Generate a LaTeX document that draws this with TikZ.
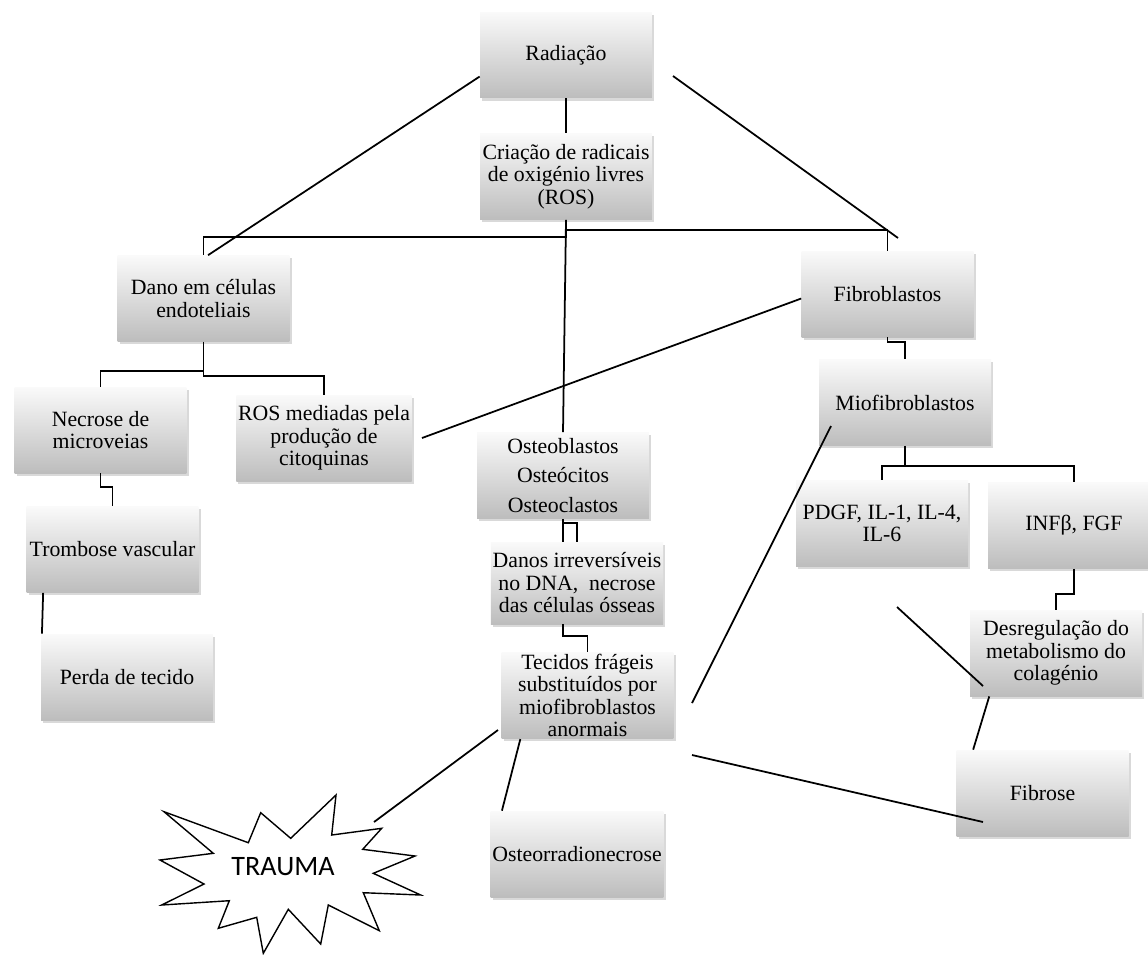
\documentclass[tikz,border=0pt]{standalone}
\usepackage{fontspec}
\setmainfont{Liberation Serif}
\newfontfamily\traumafont{Carlito}
\usetikzlibrary{shadows}

\begin{document}
\begin{tikzpicture}[x=0.02cm,y=-0.02cm,
  caixa/.style={
    top color=black!2, bottom color=black!26,
    drop shadow={opacity=0.3,shadow xshift=1.2pt,shadow yshift=-1.5pt},
    minimum width=3.44cm, minimum height=1.72cm,
    align=center, inner sep=1pt,
    font=\fontsize{12.4}{12.8}\selectfont,
  },
  liga/.style={line width=1pt},
  ]
  \useasboundingbox (0,0) rectangle (1148,954);
  \node[caixa] (rad) at (566,55) {Radiação};
  \node[caixa] (cri) at (566,176.5) {Criação de radicais\\ de oxigénio livres\\ (ROS)};
  \node[caixa] (dano) at (203.5,298.5) {Dano em células\\ endoteliais};
  \node[caixa] (fib) at (887.5,294) {Fibroblastos};
  \node[caixa] (mio) at (905,402.5) {Miofibroblastos};
  \node[caixa] (nec) at (100.5,430) {Necrose de\\ microveias};
  \node[caixa] (ros) at (324,438) {ROS mediadas pela\\ produção de\\ citoquinas};
  \node[caixa] (tro) at (112.5,549.5) {Trombose vascular};
  \node[caixa] (per) at (127,677) {Perda de tecido};
  \node[caixa] (ost) at (563,475.5) {Osteoblastos\\[4pt] Osteócitos\\[4pt] Osteoclastos};
  \node[caixa, minimum height=1.64cm] (dan) at (577,583) {Danos irreversíveis\\ no DNA,\ \ necrose\\ das células ósseas};
  \node[caixa] (tec) at (587.5,695.5) {Tecidos frágeis\\ substituídos por\\ miofibroblastos\\ anormais};
  \node[caixa] (osr) at (577,854) {Osteorradionecrose};
  \node[caixa] (pdgf) at (882,523.5) {PDGF, IL-1, IL-4,\\ IL-6};
  \node[caixa] (infb) at (1074,525.5) {INFβ, FGF};
  \node[caixa] (des) at (1056,653) {Desregulação do\\ metabolismo do\\ colagénio};
  \node[caixa] (fibr) at (1042.5,793) {Fibrose};

  \draw[line width=0.8pt, fill=white] (336,795) -- (331.7,835) -- (381.7,828.3) -- (362.7,849.3)
    -- (415,856) -- (373.3,873.3) -- (420.7,895) -- (363.3,892.7) -- (379.3,930.7)
    -- (328.3,905) -- (320.7,944) -- (288.3,909.3) -- (263.3,953.3) -- (256.7,917.3)
    -- (218.3,928.3) -- (229.3,900.7) -- (161.7,905) -- (204,884) -- (160,860)
    -- (213.3,853.3) -- (164,811.7) -- (248.3,842.7) -- (260.7,812.7) -- (290.7,838.3) -- cycle;
  \node[font=\traumafont\fontsize{16}{18}\selectfont] (trauma) at (283,867) {TRAUMA};

  \coordinate (rr) at (673,76);
  \coordinate (fr) at (898,238);
  \coordinate (re) at (422,438);
  \coordinate (mt) at (831,426);
  \coordinate (tm) at (692,703);
  \coordinate (tf) at (692,755);
  \coordinate (ft) at (983,822);
  \coordinate (tt) at (498,730);
  \coordinate (at) at (374,822);
  \coordinate (pd) at (897,607);
  \coordinate (dp) at (983,686);

  \draw[liga] (rad.south) -- (cri.north);
  \draw[liga] (cri.south) -- ++(0,17) -| (dano.north);
  \draw[liga] (cri.south) -- ++(0,10) -| (fib.north);
  \draw[liga] (cri.south) -- (ost.north);
  \draw[liga] (rad.194) -- (dano.84);
  \draw[liga] (rr) -- (fr);
  \draw[liga] (dano.south) -- ++(0,34) -| (ros.north);
  \draw[liga] (dano.south) -- ++(0,29) -| (nec.north);
  \draw[liga] (nec.south) -- ++(0,14) -| (tro.north);
  \draw[liga] (tro.212) -- (per.153);
  \draw[liga] (fib.south) -- ++(0,5) -| (mio.north);
  \draw[liga] (mio.south) -- ++(0,20) -| (pdgf.north);
  \draw[liga] (mio.south) -- ++(0,20) -| (infb.north);
  \draw[liga] (infb.south) -- ++(0,25) -| (des.north);
  \draw[liga] (des.213) -- (fibr.148);
  \draw[liga] (pd) -- (dp);
  \draw[liga] (fib.183) -- (re);
  \draw[liga] (mt) -- (tm);
  \draw[liga] (tf) -- (ft);
  \draw[liga] (tt) -- (at);
  \draw[liga] (tec.213) -- (osr.150);
  \draw[liga] (ost.south) -- (ost.south |- dan.north);
  \draw[liga] (ost.south) ++(0,4) -| (dan.north);
  \draw[liga] (dan.south -| ost.south) -- ++(0,12) -| (tec.north);
\end{tikzpicture}
\end{document}
